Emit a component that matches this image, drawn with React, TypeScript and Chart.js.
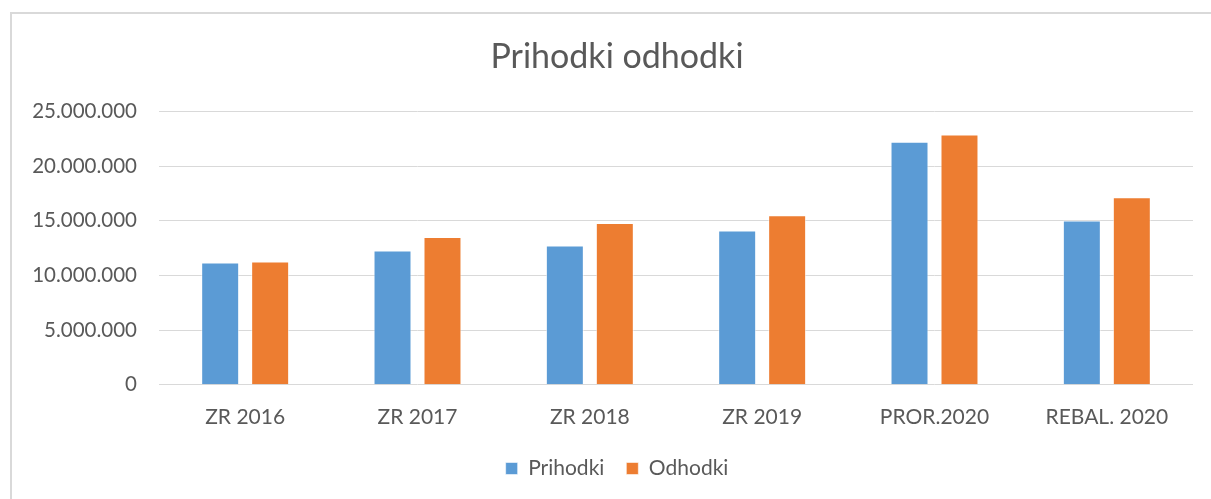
import React, { useEffect, useRef } from "react";
import { Chart, registerables } from "chart.js";

Chart.register(...registerables);

const categories = ["ZR 2016", "ZR 2017", "ZR 2018", "ZR 2019", "PROR.2020", "REBAL. 2020"];
const prihodki = [11170000, 12270000, 12730000, 14100000, 22220000, 15020000];
const odhodki = [11260000, 13520000, 14800000, 15500000, 22890000, 17150000];
const seriesNames = ["Prihodki", "Odhodki"];
const titleText = "Prihodki odhodki";

const FONT = "Lato";
const TEXT = "#595959";

function fmt(v: number): string {
  return String(Math.round(v)).replace(/\B(?=(\d{3})+(?!\d))/g, ".");
}

// Centre the title and legend over the outer chart frame (Excel style)
const shiftBlocks = {
  id: "shiftBlocks",
  afterLayout(chart: any) {
    const shift = 41;
    if (chart.titleBlock) chart.titleBlock.left = shift;
    if (chart.legend) chart.legend.left = shift;
  },
};

export default function App() {
  const ref = useRef<HTMLCanvasElement | null>(null);
  useEffect(() => {
    if (!ref.current) return;
    const chart = new Chart(ref.current, {
      type: "bar",
      data: {
        labels: categories,
        datasets: [
          {
            label: seriesNames[0],
            data: prihodki,
            backgroundColor: "#5B9BD5",
            borderColor: "rgba(255,255,255,0.55)",
            borderWidth: 1,
            categoryPercentage: 0.58,
            barPercentage: 0.76,
          },
          {
            label: seriesNames[1],
            data: odhodki,
            backgroundColor: "#ED7D31",
            borderColor: "rgba(255,255,255,0.55)",
            borderWidth: 1,
            categoryPercentage: 0.58,
            barPercentage: 0.76,
          },
        ],
      },
      plugins: [shiftBlocks],
      options: {
        animation: false,
        responsive: false,
        devicePixelRatio: 1,
        layout: { padding: { left: 0, right: 18, top: 0, bottom: 10 } },
        plugins: {
          title: {
            display: true,
            text: titleText,
            color: TEXT,
            font: { family: FONT, size: 34, weight: "normal", lineHeight: 1.2 },
            padding: { top: 36.6, bottom: 33.9 },
          },
          legend: {
            position: "bottom",
            labels: {
              boxWidth: 12,
              boxHeight: 12,
              padding: 22,
              color: TEXT,
              font: { family: FONT, size: 21 },
            },
          },
          tooltip: { enabled: false },
        },
        scales: {
          x: {
            grid: { display: false, drawTicks: false },
            border: { display: false },
            ticks: {
              color: TEXT,
              font: { family: FONT, size: 21 },
              padding: 19.6,
              maxRotation: 0,
            },
            afterFit: (scale: any) => {
              scale.height = 51.2;
            },
          },
          y: {
            min: 0,
            max: 25000000,
            grid: { color: "#d9d9d9", lineWidth: 1, drawTicks: false },
            border: { display: false },
            ticks: {
              stepSize: 5000000,
              color: TEXT,
              font: { family: FONT, size: 20.5 },
              padding: 22,
              callback: (v: any) => fmt(Number(v)),
            },
            afterFit: (scale: any) => {
              scale.width = 159;
            },
          },
        },
      },
    });
    return () => chart.destroy();
  }, []);

  return (
    <div style={{ position: "fixed", left: 0, top: 0, width: 1211, height: 499, background: "#fff", overflow: "hidden" }}>
      <div
        style={{
          position: "absolute",
          left: 10,
          top: 12,
          width: 1240,
          height: 520,
          border: "2px solid #d9d9d9",
          boxSizing: "border-box",
        }}
      />
      <canvas ref={ref} width={1211} height={499} style={{ position: "absolute", left: 0, top: 0, width: 1211, height: 499 }} />
    </div>
  );
}
